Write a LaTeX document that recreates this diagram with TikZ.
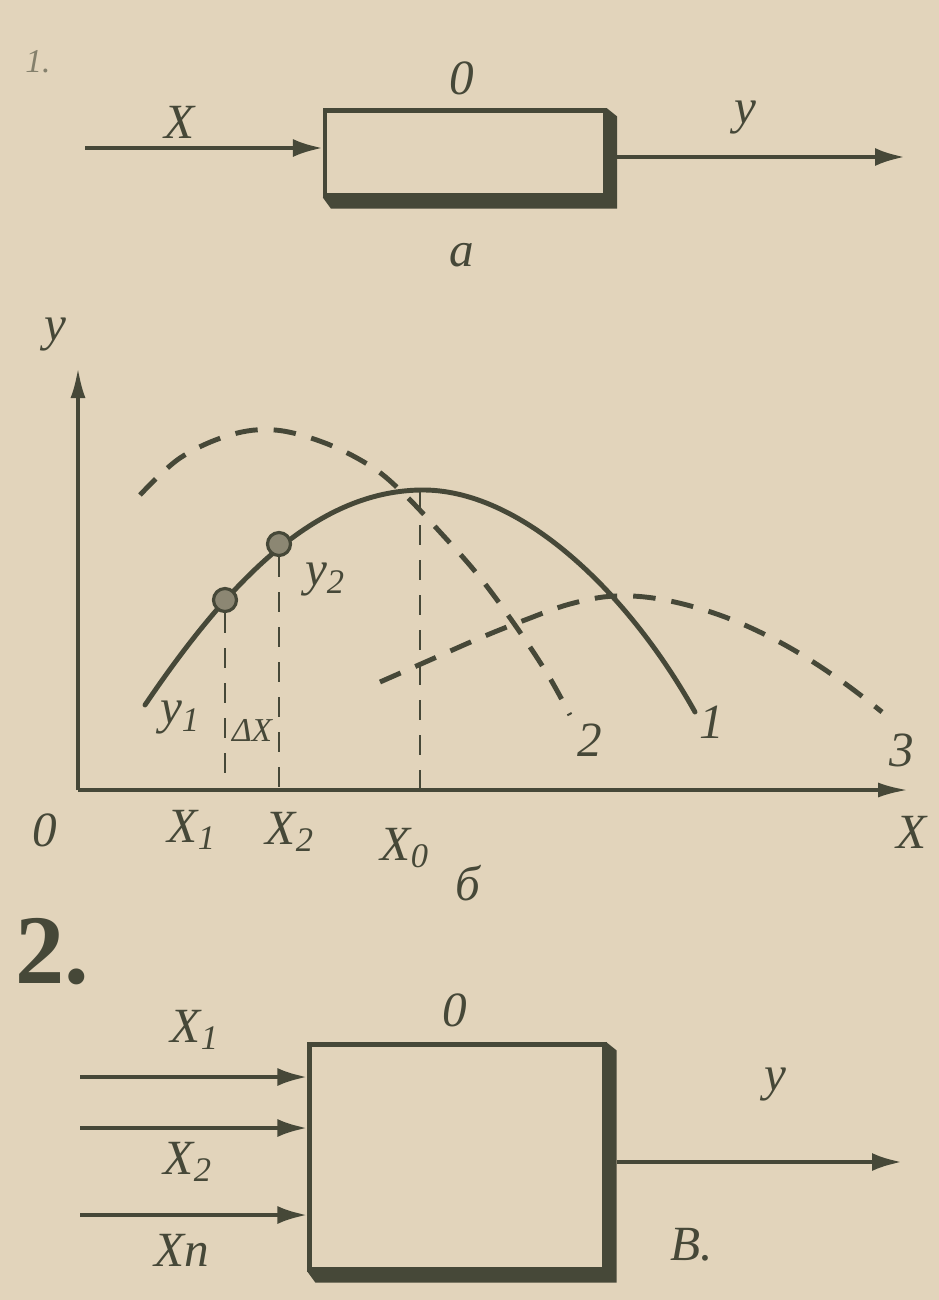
\documentclass[tikz,border=0pt]{standalone}
\usepackage{fontspec}
\setmainfont{Liberation Serif}
\usetikzlibrary{arrows.meta, positioning, calc}
\definecolor{paper}{RGB}{226,212,187}
\definecolor{ink}{RGB}{70,72,56}

\begin{document}
\begin{tikzpicture}[
    x=0.2mm, y=-0.2mm,
    blk/.style={rectangle, draw=ink, line width=2.4pt, inner sep=0pt},
    arr/.style={-{Latex[length=6mm, width=3.6mm]}, draw=ink, line width=2.4pt},
    lbl/.style={text=ink, font=\fontsize{28}{30}\selectfont\itshape, inner sep=1pt},
    small/.style={text=ink, font=\fontsize{19}{21}\selectfont\itshape, inner sep=1pt},
    axis/.style={-{Latex[length=6mm, width=3mm]}, draw=ink, line width=2pt},
    curve/.style={draw=ink, line width=2.8pt, line cap=round},
    dcurve/.style={draw=ink, line width=2.8pt, dash pattern=on 4.5mm off 3.2mm},
    drop/.style={draw=ink, line width=1.5pt, dash pattern=on 4mm off 3mm},
    dotm/.style={circle, draw=ink, line width=1.8pt, fill=ink!55!paper, minimum size=4.6mm, inner sep=0pt}
]

% paper
\fill[paper] (0,0) rectangle (939,1300);
\useasboundingbox (0,0) rectangle (939,1300);

% --- part a: single-input object ---
\node[blk, minimum width=56mm, minimum height=17mm] (obj) at (465,153) {};
\fill[ink] (obj.north east) -- ++(10,8) -- ($(obj.south east)+(10,11)$) -- ($(obj.south west)+(8,11)$) -- (obj.south west) -- (obj.south east) -- cycle;
\coordinate (xin) at (85,148);
\coordinate (yout) at (905,157);
\draw[arr] (xin) -- (xin -| obj.west);
\draw[arr] (yout -| obj.east) ++(10,0) -- (yout);
\node[lbl] (lx) at (180,122) {X};
\node[lbl] (lo) at (462,78) {0};
\node[lbl] (ly) at (745,118) {y};
\node[lbl] (la) at (462,255) {а};
\node[small, opacity=0.6] (fig1) at (38,62) {1.};

% --- part b: response curves ---
\coordinate (O) at (78,790);
\coordinate (ytop) at (78,368);
\coordinate (xend) at (908,790);
\draw[axis] (O) -- (ytop);
\draw[axis] (O) -- (xend);

% curve 1 (solid)
\coordinate (ym) at (420,490);
\draw[curve] (145,705) .. controls (235,572) and (320,492) .. (ym)
    .. controls (520,488) and (628,592) .. (695,712);
% curve 2 (dashed)
\draw[dcurve] plot[smooth, tension=0.6] coordinates {(140,495) (180,458) (230,435) (275,430) (325,443) (372,467) (405,495) (440,532) (478,575) (515,625) (548,675) (570,715)};
% curve 3 (dashed)
\draw[dcurve] plot[smooth, tension=0.6] coordinates {(380,682) (430,660) (480,638) (525,620) (570,604) (615,596) (665,600) (725,617) (785,645) (840,680) (882,712)};

\node[dotm] (ya) at (225,600) {};
\node[dotm] (yb) at (279,544) {};
\draw[drop] (ya) -- (ya |- O);
\draw[drop] (yb) -- (yb |- O);
\draw[drop] (ym) -- (ym |- O);

\node[lbl] (laxy) at (55,335) {y};
\node[lbl] (lorg) at (45,830) {0};
\node[lbl] (laxx) at (912,832) {X};
\node[lbl] (lx1) at (192,830) {X\textsubscript{1}};
\node[lbl] (lx2) at (290,832) {X\textsubscript{2}};
\node[lbl] (lx0) at (405,848) {X\textsubscript{0}};
\node[lbl] (ly1) at (180,718) {y\textsubscript{1}};
\node[lbl] (ly2) at (325,580) {y\textsubscript{2}};
\node[small] (ldx) at (252,730) {ΔX};
\node[lbl] (lc1) at (712,722) {1};
\node[lbl] (lc2) at (590,740) {2};
\node[lbl] (lc3) at (902,750) {3};
\node[lbl] (lb) at (468,883) {б};

% --- part v: multi-input object ---
\node[text=ink, font=\fontsize{56}{58}\selectfont\bfseries] (fig2) at (52,952) {2.};
\node[blk, minimum width=59mm, minimum height=45mm] (big) at (457,1157) {};
\fill[ink] (big.north east) -- ++(10,8) -- ($(big.south east)+(10,11)$) -- ($(big.south west)+(8,11)$) -- (big.south west) -- (big.south east) -- cycle;
\coordinate (in1) at (80,1077);
\coordinate (in2) at (80,1128);
\coordinate (inn) at (80,1215);
\coordinate (out) at (902,1162);
\draw[arr] (in1) -- (in1 -| big.west);
\draw[arr] (in2) -- (in2 -| big.west);
\draw[arr] (inn) -- (inn -| big.west);
\draw[arr] (out -| big.east) ++(10,0) -- (out);
\node[lbl] (lin1) at (195,1030) {X\textsubscript{1}};
\node[lbl] (lin2) at (188,1162) {X\textsubscript{2}};
\node[lbl] (linn) at (182,1250) {Xn};
\node[lbl] (lo2) at (455,1010) {0};
\node[lbl] (lout) at (775,1085) {y};
\node[lbl] (lv) at (692,1245) {В.};

\end{tikzpicture}
\end{document}
